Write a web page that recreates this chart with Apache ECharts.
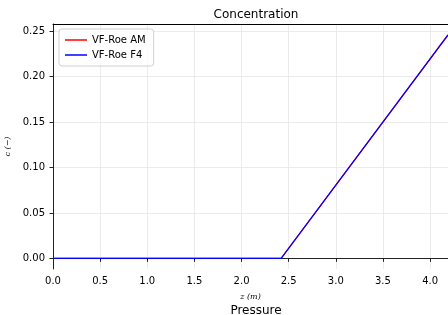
<!DOCTYPE html>
<html>
<head>
<meta charset="utf-8">
<script src="https://cdn.jsdelivr.net/npm/echarts@6/dist/echarts.min.js"></script>
<style>
  html, body { margin: 0; padding: 0; background: #fff; }
  #main { width: 448px; height: 315px; }
</style>
</head>
<body>
<div id="main"></div>
<script>
// data
var seriesNames = ['VF-Roe AM', 'VF-Roe F4'];
var seriesColors = ['#ff0000', '#0000ff'];
var zAM = [0.0, 2.42, 4.19];
var cAM = [0.0, 0.0, 0.246];
var zF4 = [0.0, 2.42, 4.19];
var cF4 = [0.0, 0.0, 0.246];
var xTicks = [0.0, 0.5, 1.0, 1.5, 2.0, 2.5, 3.0, 3.5, 4.0];
var yTicks = [0.00, 0.05, 0.10, 0.15, 0.20, 0.25];

function pairs(xs, ys) {
    var out = [];
    for (var i = 0; i < xs.length; i++) {
        out.push([xs[i], ys[i]]);
    }
    return out;
}

var font = 'DejaVu Sans';
var myChart = echarts.init(document.getElementById('main'));

var options = {
    animation: false,
    title: [{
        text: 'Concentration',
        left: 251,
        textAlign: 'center',
        top: 4,
        textStyle: { fontFamily: font, fontSize: 12, fontWeight: 'normal', color: '#000' }
    }, {
        text: 'Pressure',
        left: 251,
        textAlign: 'center',
        top: 300,
        textStyle: { fontFamily: font, fontSize: 12, fontWeight: 'normal', color: '#000' }
    }],
    legend: {
        left: 59,
        top: 29,
        orient: 'vertical',
        itemGap: 5,
        itemWidth: 22,
        itemHeight: 1.5,
        icon: 'rect',
        padding: [6, 8, 6, 6],
        borderColor: '#d0d0d0',
        borderWidth: 1,
        borderRadius: 3,
        backgroundColor: 'rgba(255,255,255,0.8)',
        textStyle: { fontFamily: font, fontSize: 10, color: '#000' },
        data: seriesNames
    },
    grid: {
        left: 53,
        top: 24,
        right: 0,
        bottom: 46,
        containLabel: false,
        outerBoundsMode: 'none'
    },
    xAxis: [{
        type: 'value',
        min: 0,
        max: 4.19,
        name: 'z (m)',
        nameLocation: 'middle',
        nameGap: 24,
        nameTextStyle: { fontFamily: 'DejaVu Serif', fontStyle: 'italic', fontSize: 8, color: '#000' },
        axisLine: { show: true, lineStyle: { color: '#222', width: 1 } },
        axisTick: { show: true, inside: false, length: 3.5, customValues: xTicks, lineStyle: { color: '#222' } },
        axisLabel: {
            customValues: xTicks,
            fontFamily: font, fontSize: 10, color: '#000', margin: 7,
            formatter: function (v) { return v.toFixed(1); }
        },
        splitLine: { show: true, lineStyle: { color: '#e6e6e6', width: 0.8 } }
    }, {
        // top spine only
        type: 'value',
        position: 'top',
        min: 0,
        max: 4.19,
        axisLine: { show: true, lineStyle: { color: '#000', width: 1 } },
        axisTick: { show: false },
        axisLabel: { show: false },
        splitLine: { show: false }
    }],
    yAxis: {
        type: 'value',
        min: -0.0117,
        max: 0.258,
        name: 'c (\u2212)',
        nameLocation: 'middle',
        nameGap: 30,
        nameRotate: 90,
        nameTextStyle: { fontFamily: 'DejaVu Serif', fontStyle: 'italic', fontSize: 8, color: '#000' },
        axisLine: { show: true, lineStyle: { color: '#222', width: 1 } },
        axisTick: { show: true, inside: false, length: 3.5, customValues: yTicks, lineStyle: { color: '#222' } },
        axisLabel: {
            customValues: yTicks,
            fontFamily: font, fontSize: 10, color: '#000', margin: 8,
            formatter: function (v) { return v.toFixed(2); }
        },
        splitLine: { show: true, lineStyle: { color: '#e6e6e6', width: 0.8 } }
    },
    series: [{
        name: seriesNames[0],
        type: 'line',
        symbol: 'none',
        color: seriesColors[0],
        lineStyle: { width: 1.2 },
        data: pairs(zAM, cAM)
    }, {
        name: seriesNames[1],
        type: 'line',
        symbol: 'none',
        color: seriesColors[1],
        lineStyle: { width: 1.2 },
        data: pairs(zF4, cF4)
    }]
};
myChart.setOption(options);
</script>
</body>
</html>
